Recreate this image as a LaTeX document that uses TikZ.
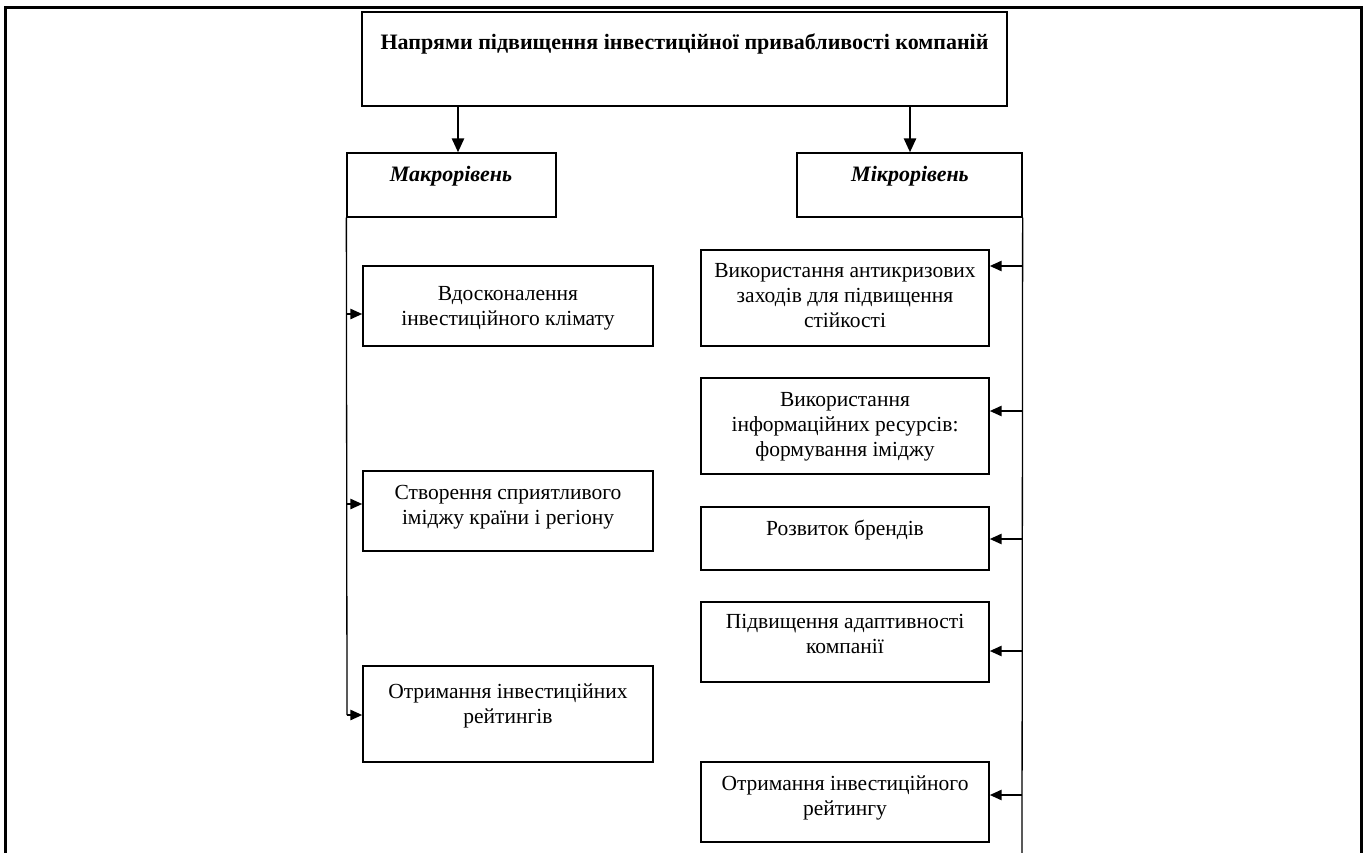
\documentclass[tikz,border=0pt]{standalone}
\usepackage{fontspec}
\setmainfont{Liberation Serif}
\usetikzlibrary{arrows.meta}
\begin{document}
\begin{tikzpicture}[x=1pt,y=-1pt,
  box/.style={draw,line width=1.3pt,inner sep=0pt},
  txt/.style={align=center,font=\fontsize{21.5}{24.6}\selectfont,inner sep=0pt,anchor=base},
  bigarr/.style={line width=2.6pt,-{Triangle[length=14pt,width=12pt]}},
  smallarr/.style={line width=2.5pt,-{Triangle[length=12pt,width=10pt]}},
  busline/.style={line width=1.3pt}]
\useasboundingbox (0,0) rectangle (1367,853);
\draw[line width=3pt] (5,853) -- (5,8) -- (1361,8) -- (1361,853);

% boxes
\node[box,minimum width=645pt,minimum height=94pt] (title) at (684.5,59) {};
\node[box,minimum width=209pt,minimum height=64pt] (macro) at (451.5,185) {};
\node[box,minimum width=225pt,minimum height=64pt] (micro) at (909.5,185) {};
\node[box,minimum width=290pt,minimum height=80pt] (L1) at (508,306) {};
\node[box,minimum width=290pt,minimum height=80pt] (L2) at (508,511) {};
\node[box,minimum width=290pt,minimum height=96pt] (L3) at (508,714) {};
\node[box,minimum width=288pt,minimum height=96pt] (R1) at (845,298) {};
\node[box,minimum width=288pt,minimum height=96pt] (R2) at (845,426) {};
\node[box,minimum width=288pt,minimum height=63pt] (R3) at (845,538.5) {};
\node[box,minimum width=288pt,minimum height=80pt] (R4) at (845,642) {};
\node[box,minimum width=288pt,minimum height=80pt] (R5) at (845,802) {};

% texts (positioned at baseline of last line)
\node[txt,font=\fontsize{22}{25}\selectfont\bfseries] (tTitle) at (684.5,50) {Напрями підвищення інвестиційної привабливості компаній};
\node[txt,font=\fontsize{22}{25}\selectfont\bfseries\itshape] (tMacro) at (451,182) {Макрорівень};
\node[txt,font=\fontsize{22}{25}\selectfont\bfseries\itshape] (tMicro) at (910,182) {Мікрорівень};
\node[txt] (tL1) at (508,325) {Вдосконалення\\інвестиційного клімату};
\node[txt] (tL2) at (508,524) {Створення сприятливого\\іміджу країни і регіону};
\node[txt] (tL3) at (508,723) {Отримання інвестиційних\\рейтингів};
\node[txt] (tR1) at (845,327) {Використання антикризових\\заходів для підвищення\\стійкості};
\node[txt] (tR2) at (845,456) {Використання\\інформаційних ресурсів:\\формування іміджу};
\node[txt] (tR3) at (845,535) {Розвиток брендів};
\node[txt] (tR4) at (845,653) {Підвищення адаптивності\\компанії};
\node[txt] (tR5) at (845,815) {Отримання інвестиційного\\рейтингу};

% top arrows
\coordinate (tl) at (458,106);
\coordinate (tr) at (910,106);
\draw[bigarr] (tl) -- (tl |- macro.north);
\draw[bigarr] (tr) -- (tr |- micro.north);

% buses
\coordinate (lbEnd) at (347,715);
\coordinate (rbEnd) at (1022,853);
\draw[busline] (macro.south west) -- (lbEnd);
\draw[busline] (micro.south east) -- (rbEnd);

% left arrows
\coordinate (la1) at (347,314);
\coordinate (la2) at (347,504);
\coordinate (la3) at (347,715);
\draw[smallarr] (la1) -- (la1 -| L1.west);
\draw[smallarr] (la2) -- (la2 -| L2.west);
\draw[smallarr] (la3) -- (la3 -| L3.west);

% right arrows
\coordinate (ra1) at (1022,266);
\coordinate (ra2) at (1022,411);
\coordinate (ra3) at (1022,539);
\coordinate (ra4) at (1022,651);
\coordinate (ra5) at (1022,795);
\draw[smallarr] (ra1) -- (ra1 -| R1.east);
\draw[smallarr] (ra2) -- (ra2 -| R2.east);
\draw[smallarr] (ra3) -- (ra3 -| R3.east);
\draw[smallarr] (ra4) -- (ra4 -| R4.east);
\draw[smallarr] (ra5) -- (ra5 -| R5.east);
\end{tikzpicture}
\end{document}
